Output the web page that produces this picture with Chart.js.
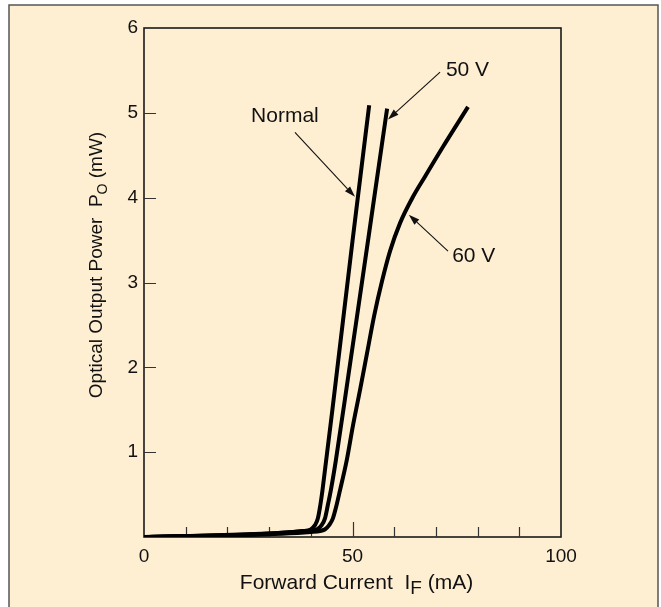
<!DOCTYPE html>
<html><head><meta charset="utf-8">
<script src="https://cdn.jsdelivr.net/npm/chart.js@4/dist/chart.umd.min.js"></script>
<style>html,body{margin:0;padding:0;background:#fff;}canvas{display:block}</style>
</head><body>
<canvas id="c" width="661" height="607"></canvas>
<script>
// ---- data (forward current mA, optical output mW) ----
const normalX = [0, 38, 40, 41, 41.7, 42.3, 42.8, 46, 50, 54];
const normalY = [0, 0.07, 0.09, 0.14, 0.22, 0.38, 0.55, 1.84, 3.49, 5.09];
const v50X = [0, 39, 41.5, 42.6, 43.4, 44.1, 44.8, 46, 49, 51.2, 53.8, 57, 58.3];
const v50Y = [0, 0.07, 0.09, 0.14, 0.22, 0.38, 0.55, 0.9, 1.9, 2.64, 3.52, 4.61, 5.05];
const v60X = [0, 40, 43.4, 44.4, 45.3, 46.2, 47, 48.6, 50.1, 51.8, 53.5, 55.2, 57.1, 59, 61.4, 64.5, 67.4, 71.7, 77.7];
const v60Y = [0, 0.06, 0.09, 0.14, 0.22, 0.38, 0.55, 0.9, 1.31, 1.73, 2.17, 2.61, 3.02, 3.37, 3.70, 4.01, 4.25, 4.6, 5.07];
const seriesNames = ["Normal", "50 V", "60 V"];
const xTickLabels = [0, 50, 100];
const yTickLabels = [1, 2, 3, 4, 5, 6];
const xTickMarks = [10, 20, 30, 40, 50, 60, 70, 80, 90];
const yTickMarks = [1, 2, 3, 4, 5];
// annotation: label position, arrow start, arrow tip (data units)
const annNormal = {text: "Normal", tx: 33.8, ty: 4.96, align: "center", sx: 36.2, sy: 4.77, ex: 50.6, ey: 4.01};
const ann50 = {text: "50 V", tx: 72.4, ty: 5.5, align: "left", sx: 71.0, sy: 5.48, ex: 58.5, ey: 4.92};
const ann60 = {text: "60 V", tx: 73.9, ty: 3.31, align: "left", sx: 72.9, sy: 3.37, ex: 63.5, ey: 3.80};
const annotations = [annNormal, ann50, ann60];

const FONT = "'Liberation Sans', Arial, sans-serif";
const TXT = "#111";
const CREAM = "#FEEFD3";

function pts(xs, ys) { return xs.map((x, i) => ({x: x, y: ys[i]})); }

const framePlugin = {
  id: 'frame',
  beforeDraw(chart) {
    const ctx = chart.ctx;
    ctx.save();
    ctx.fillStyle = '#fff';
    ctx.fillRect(0, 0, chart.width, chart.height);
    ctx.fillStyle = CREAM;
    ctx.fillRect(9, 5, 649, 620);
    ctx.strokeStyle = '#555';
    ctx.lineWidth = 1.5;
    ctx.strokeRect(9, 5, 649, 620);
    ctx.restore();
  },
  beforeDatasetsDraw(chart) {
    const ctx = chart.ctx, a = chart.chartArea;
    const xs = chart.scales.x, ys = chart.scales.y;
    ctx.save();
    ctx.strokeStyle = '#1a1a1a';
    ctx.lineWidth = 1.6;
    ctx.strokeRect(a.left, a.top, a.right - a.left, a.bottom - a.top);
    ctx.lineWidth = 1.2;
    ctx.strokeStyle = '#333';
    ctx.beginPath();
    yTickMarks.forEach(v => {
      const y = Math.round(ys.getPixelForValue(v)) + 0.5;
      ctx.moveTo(a.left, y); ctx.lineTo(a.left + 12, y);
    });
    xTickMarks.forEach(v => {
      const x = Math.round(xs.getPixelForValue(v)) + 0.5;
      const len = v === 50 ? 15 : 10;
      ctx.moveTo(x, a.bottom); ctx.lineTo(x, a.bottom - len);
    });
    ctx.stroke();
    ctx.restore();
  },
  afterDraw(chart) {
    const ctx = chart.ctx, a = chart.chartArea;
    const xs = chart.scales.x, ys = chart.scales.y;
    ctx.save();
    ctx.fillStyle = TXT;
    ctx.textBaseline = 'middle';
    // annotations
    annotations.forEach(an => {
      const tx = xs.getPixelForValue(an.tx), ty = ys.getPixelForValue(an.ty);
      ctx.font = "21px " + FONT;
      ctx.textAlign = an.align;
      ctx.fillText(an.text, tx, ty);
      const sx = xs.getPixelForValue(an.sx), sy = ys.getPixelForValue(an.sy);
      const ex = xs.getPixelForValue(an.ex), ey = ys.getPixelForValue(an.ey);
      const ang = Math.atan2(ey - sy, ex - sx);
      const L = 11, W = 3.5;
      const bx = ex - L * Math.cos(ang), by = ey - L * Math.sin(ang);
      ctx.strokeStyle = '#111';
      ctx.lineWidth = 1.1;
      ctx.beginPath(); ctx.moveTo(sx, sy); ctx.lineTo(bx, by); ctx.stroke();
      ctx.beginPath();
      ctx.moveTo(ex, ey);
      ctx.lineTo(bx + W * Math.sin(ang), by - W * Math.cos(ang));
      ctx.lineTo(bx - W * Math.sin(ang), by + W * Math.cos(ang));
      ctx.closePath(); ctx.fill();
    });
    // x title with subscript
    const xParts = [["Forward Current  I", 21, 0], ["F", 19, 5], [" (mA)", 21, 0]];
    let tot = 0;
    xParts.forEach(p => { ctx.font = p[1] + "px " + FONT; tot += ctx.measureText(p[0]).width; });
    let cx = (a.left + a.right) / 2 - tot / 2 + 4;
    ctx.textAlign = 'left';
    ctx.textBaseline = 'alphabetic';
    xParts.forEach(p => {
      ctx.font = p[1] + "px " + FONT;
      ctx.fillText(p[0], cx, 589 + p[2]);
      cx += ctx.measureText(p[0]).width;
    });
    // y title rotated
    const yParts = [["Optical Output Power  P", 19, 0], ["O", 14, 5], [" (mW)", 19, 0]];
    tot = 0;
    yParts.forEach(p => { ctx.font = p[1] + "px " + FONT; tot += ctx.measureText(p[0]).width; });
    ctx.translate(102, 265);
    ctx.rotate(-Math.PI / 2);
    let cy = -tot / 2;
    yParts.forEach(p => {
      ctx.font = p[1] + "px " + FONT;
      ctx.fillText(p[0], cy, p[2]);
      cy += ctx.measureText(p[0]).width;
    });
    ctx.restore();
  }
};

const lineStyle = {borderColor: '#000', borderWidth: 4, pointRadius: 0, fill: false,
  cubicInterpolationMode: 'monotone', borderCapStyle: 'butt', borderJoinStyle: 'round'};

new Chart(document.getElementById('c'), {
  type: 'line',
  data: {
    datasets: [
      Object.assign({label: seriesNames[0], data: pts(normalX, normalY)}, lineStyle),
      Object.assign({label: seriesNames[1], data: pts(v50X, v50Y)}, lineStyle),
      Object.assign({label: seriesNames[2], data: pts(v60X, v60Y)}, lineStyle)
    ]
  },
  options: {
    responsive: false,
    animation: false,
    devicePixelRatio: 1,
    layout: {padding: {left: 0, top: 28, right: 100, bottom: 0}},
    plugins: {legend: {display: false}, tooltip: {enabled: false}},
    scales: {
      x: {
        type: 'linear', min: 0, max: 100,
        grid: {display: false, drawTicks: false}, border: {display: false},
        afterFit(s) { s.height = 70; },
        afterBuildTicks(s) { s.ticks = xTickLabels.map(v => ({value: v})); },
        ticks: {color: TXT, font: {size: 19, family: FONT}, padding: 8, maxRotation: 0, autoSkip: false}
      },
      y: {
        type: 'linear', min: 0, max: 6,
        grid: {display: false, drawTicks: false}, border: {display: false},
        afterFit(s) { s.width = 144; },
        afterBuildTicks(s) { s.ticks = yTickLabels.map(v => ({value: v})); },
        ticks: {color: TXT, font: {size: 19, family: FONT}, padding: 6}
      }
    }
  },
  plugins: [framePlugin]
});
</script>
</body></html>
